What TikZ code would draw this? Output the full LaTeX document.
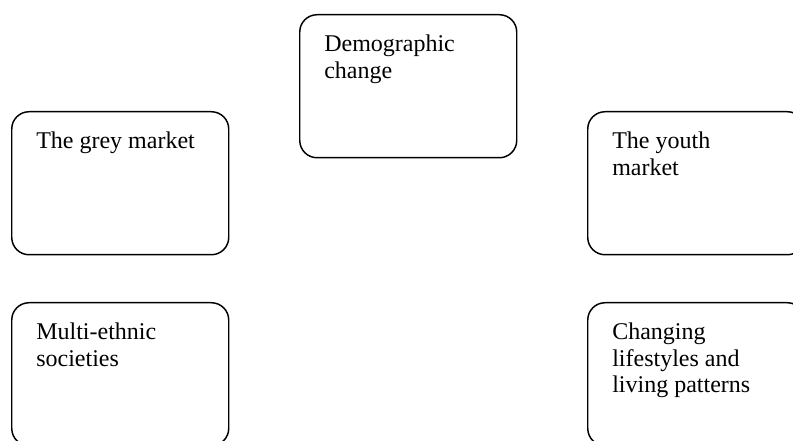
\documentclass[tikz,border=0pt]{standalone}
\usepackage{fontspec}
\setmainfont{Liberation Serif}
\newcommand{\toplines}[1]{\begin{tabular}[t]{@{}l@{}}#1\end{tabular}}
\begin{document}
\begin{tikzpicture}[x=0.75pt,y=-0.75pt,
  box/.style={draw=black,line width=1.1pt,rounded corners=13pt,minimum width=162.75pt,minimum height=107.25pt,anchor=north west,inner sep=0pt},
  lbl/.style={anchor=base west,inner sep=0pt,font=\fontsize{18}{19.8}\selectfont}]
\clip (0,0) rectangle (793,441);
\fill[white] (0,0) rectangle (793,441);
\node[box] (demo) at (299,14) {};
\node[box] (grey) at (11,111) {};
\node[box] (youth) at (587,111) {};
\node[box] (multi) at (11,302) {};
\node[box] (life) at (587,302) {};
\node[lbl] (tdemo) at ([shift={(25,38)}]demo.north west) {\toplines{Demographic\\change}};
\node[lbl] (tgrey) at ([shift={(25,38)}]grey.north west) {\toplines{The grey market}};
\node[lbl] (tyouth) at ([shift={(25,38)}]youth.north west) {\toplines{The youth\\market}};
\node[lbl] (tmulti) at ([shift={(25,38)}]multi.north west) {\toplines{Multi-ethnic\\societies}};
\node[lbl] (tlife) at ([shift={(25,38)}]life.north west) {\toplines{Changing\\lifestyles and\\living patterns}};
\end{tikzpicture}
\end{document}
